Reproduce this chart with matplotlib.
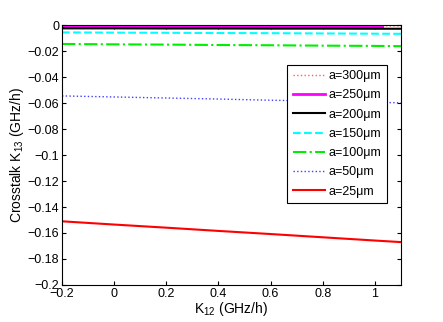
import numpy as np
import matplotlib
matplotlib.use('Agg')
import matplotlib.pyplot as plt

plt.rcParams['font.family'] = ['Liberation Sans', 'DejaVu Sans']
plt.rcParams['mathtext.default'] = 'regular'

# K12 values (GHz/h)
k12 = [-0.2, 0.0, 0.2, 0.4, 0.6, 0.8, 1.0, 1.1]
k12_250 = [-0.2, 0.0, 0.2, 0.4, 0.6, 0.8, 1.03]

# crosstalk K13 for each gap a
k13_300 = [-0.0003, -0.0003, -0.0004, -0.0004, -0.0005, -0.0005, -0.0006, -0.0006]
k13_250 = [-0.0012, -0.0012, -0.0013, -0.0013, -0.0014, -0.0015, -0.0015]
k13_200 = [-0.0025, -0.0025, -0.0026, -0.0026, -0.0027, -0.0027, -0.0028, -0.0028]
k13_150 = [-0.0056, -0.0058, -0.0059, -0.0061, -0.0062, -0.0064, -0.0066, -0.0067]
k13_100 = [-0.0145, -0.0148, -0.0150, -0.0153, -0.0155, -0.0158, -0.0160, -0.0162]
k13_50 = [-0.0545, -0.0553, -0.0561, -0.0569, -0.0578, -0.0586, -0.0594, -0.0598]
k13_25 = [-0.1510, -0.1535, -0.1559, -0.1584, -0.1608, -0.1633, -0.1658, -0.1670]

fig = plt.figure(figsize=(4.43, 3.22), dpi=100)
ax = fig.add_axes([0.140, 0.115, 0.765, 0.807])

ax.plot(k12, k13_300, color='#ff6060', linestyle=':', lw=1.0, label='a=300\u03bcm')
ax.plot(k12_250, k13_250, color='magenta', linestyle='-', lw=2.0, label='a=250\u03bcm')
ax.plot(k12, k13_200, color='black', linestyle='-', lw=1.5, label='a=200\u03bcm')
ax.plot(k12, k13_150, color='cyan', linestyle='--', lw=1.5, label='a=150\u03bcm')
ax.plot(k12, k13_100, color='#00ee00', linestyle='-.', lw=1.5, label='a=100\u03bcm')
ax.plot(k12, k13_50, color='#4040ff', linestyle=':', lw=1.0, label='a=50\u03bcm')
ax.plot(k12, k13_25, color='red', linestyle='-', lw=1.5, label='a=25\u03bcm')

ax.set_xlim(-0.2, 1.1)
ax.set_ylim(-0.2, 0.0)
ax.set_xticks([-0.2, 0, 0.2, 0.4, 0.6, 0.8, 1])
ax.set_xticklabels(['\u22120.2', '0', '0.2', '0.4', '0.6', '0.8', '1'])
ax.set_yticks(np.arange(-0.2, 0.001, 0.02))
ax.set_yticklabels(['\u22120.2', '\u22120.18', '\u22120.16', '\u22120.14', '\u22120.12',
                    '\u22120.1', '\u22120.08', '\u22120.06', '\u22120.04', '\u22120.02', '0'])
ax.tick_params(direction='in', top=True, right=True, labelsize=9, length=3, pad=2)
for s in ax.spines.values():
    s.set_linewidth(0.8)

ax.set_xlabel('K$_{12}$ (GHz/h)', fontsize=10, labelpad=0)
ax.set_ylabel('Crosstalk K$_{13}$ (GHz/h)', fontsize=10, labelpad=1)

leg = ax.legend(loc='upper left', bbox_to_anchor=(0.664, 0.848), fontsize=9,
                fancybox=False, edgecolor='black', framealpha=1,
                handlelength=2.6, handletextpad=0.3, labelspacing=0.58,
                borderpad=0.45, borderaxespad=0)
leg.get_frame().set_linewidth(0.8)

fig.savefig('out.png', dpi=100)
